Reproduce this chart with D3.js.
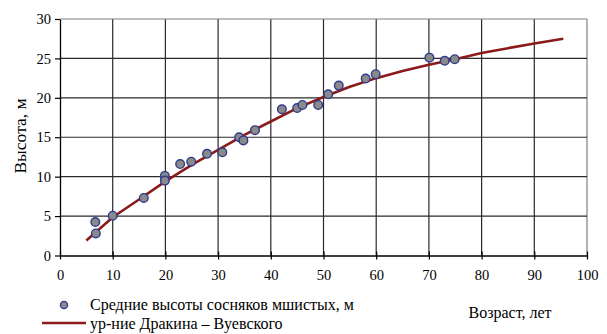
<!DOCTYPE html>
<html>
<head>
<meta charset="utf-8">
<script src="https://cdn.jsdelivr.net/npm/d3@7"></script>
<style>
  html, body { margin: 0; padding: 0; background: #fff; }
</style>
</head>
<body>
<svg id="chart" width="607" height="334"></svg>
<script>
// Mean heights of pine stands (age, height)
const ages    = [6.7, 6.8, 10.0, 15.9, 19.9, 19.9, 22.8, 24.9, 27.9, 30.8, 34.0, 34.8, 37.0, 42.1, 45.0, 46.0, 49.0, 50.9, 52.9, 58.0, 59.9, 70.1, 73.0, 74.9];
const heights = [4.25, 2.8, 5.05, 7.3, 10.1, 9.5, 11.6, 11.9, 12.9, 13.1, 15.0, 14.6, 15.9, 18.55, 18.7, 19.1, 19.1, 20.45, 21.55, 22.45, 23.0, 25.1, 24.7, 24.9];

// Drakin–Vuevsky growth curve
const curveAges    = [5, 10, 15, 20, 25, 30, 35, 40, 45, 50, 55, 60, 65, 70, 75, 80, 85, 90, 95.5];
const curveHeights = [1.9, 4.85, 7.1, 9.4, 11.5, 13.4, 15.3, 17.0, 18.7, 20.1, 21.4, 22.5, 23.4, 24.2, 24.9, 25.7, 26.3, 26.9, 27.5];

const xTicks = [0, 10, 20, 30, 40, 50, 60, 70, 80, 90, 100];
const yTicks = [0, 5, 10, 15, 20, 25, 30];

const seriesNames = ["Средние высоты сосняков мшистых, м", "ур-ние Дракина – Вуевского"];
const xTitle = "Возраст, лет";
const yTitle = "Высота, м";

const FONT = "Liberation Serif";

const svg = d3.select("#chart");
const plotL = 60, plotR = 587, plotT = 19, plotB = 255.5;

const x = d3.scaleLinear().domain([0, 100]).range([plotL, plotR]);
const y = d3.scaleLinear().domain([0, 30]).range([plotB, plotT]);

// gridlines
const grid = svg.append("g");
grid.selectAll("line.v").data(xTicks.slice(1)).join("line")
  .attr("x1", d => x(d)).attr("x2", d => x(d))
  .attr("y1", plotT).attr("y2", plotB)
  .attr("stroke", d => d === 100 ? "#808080" : "#2a2a2a").attr("stroke-width", 1.2);
grid.selectAll("line.h").data(yTicks.slice(1)).join("line")
  .attr("x1", plotL).attr("x2", plotR)
  .attr("y1", d => y(d)).attr("y2", d => y(d))
  .attr("stroke", d => d === 30 ? "#808080" : "#2a2a2a").attr("stroke-width", 1.2);

// axes
const xAxis = svg.append("g").attr("transform", `translate(0,${plotB})`)
  .call(d3.axisBottom(x).tickValues(xTicks).tickSize(0).tickPadding(14))
  .attr("font-family", FONT).attr("font-size", 14.5);
xAxis.select(".domain").attr("stroke", "#000").attr("stroke-width", 1.3);
xAxis.selectAll(".tick").append("line")
  .attr("y1", -4).attr("y2", 4).attr("stroke", "#000").attr("stroke-width", 1.2);
xAxis.selectAll("text").attr("font-family", FONT).attr("font-size", 14.5).attr("fill", "#000");

const yAxis = svg.append("g").attr("transform", `translate(${plotL},0)`)
  .call(d3.axisLeft(y).tickValues(yTicks).tickSize(5).tickSizeOuter(0).tickPadding(4))
  .attr("font-family", FONT).attr("font-size", 14.5);
yAxis.select(".domain").attr("stroke", "#000").attr("stroke-width", 1.3);
yAxis.selectAll(".tick line").attr("stroke", "#000").attr("stroke-width", 1.2);
yAxis.selectAll("text").attr("font-family", FONT).attr("font-size", 14.5).attr("fill", "#000");

// curve
const line = d3.line().x((d, i) => x(curveAges[i])).y((d, i) => y(curveHeights[i]));
svg.append("path").datum(curveHeights)
  .attr("d", line).attr("fill", "none")
  .attr("stroke", "#8b1a1a").attr("stroke-width", 2.6);

// observed points
svg.append("g").selectAll("circle").data(ages).join("circle")
  .attr("cx", d => x(d)).attr("cy", (d, i) => y(heights[i]))
  .attr("r", 4.3).attr("fill", "#8a8a8a")
  .attr("stroke", "#2e3a8c").attr("stroke-width", 1.4);

// axis titles
svg.append("text").attr("transform", "translate(26,136) rotate(-90)")
  .attr("text-anchor", "middle").attr("font-family", FONT).attr("font-size", 17.5).text(yTitle);
svg.append("text").attr("x", 510).attr("y", 318)
  .attr("text-anchor", "middle").attr("font-family", FONT).attr("font-size", 16).text(xTitle);

// legend
const lg = svg.append("g");
lg.append("circle").attr("cx", 64).attr("cy", 305).attr("r", 3.6)
  .attr("fill", "#8a8a8a").attr("stroke", "#2e3a8c").attr("stroke-width", 1.3);
lg.append("text").attr("x", 90).attr("y", 310).attr("font-family", FONT).attr("font-size", 16).text(seriesNames[0]);
lg.append("line").attr("x1", 42).attr("x2", 86).attr("y1", 323).attr("y2", 323)
  .attr("stroke", "#8b1a1a").attr("stroke-width", 2.6);
lg.append("text").attr("x", 90).attr("y", 329).attr("font-family", FONT).attr("font-size", 16).text(seriesNames[1]);
</script>
</body>
</html>
